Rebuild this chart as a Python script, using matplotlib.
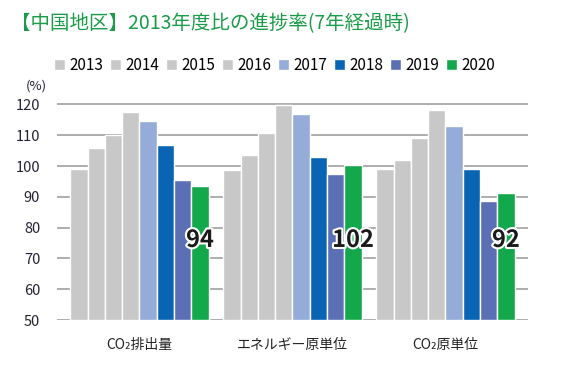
import matplotlib
matplotlib.use("Agg")
import matplotlib.pyplot as plt
import matplotlib.patheffects as pe
import numpy as np

plt.rcParams['font.family'] = ['Noto Sans CJK JP', 'DejaVu Sans']

categories = ["CO₂排出量", "エネルギー原単位", "CO₂原単位"]
years = ["2013", "2014", "2015", "2016", "2017", "2018", "2019", "2020"]
v2013 = [99.1, 98.8, 99.1]
v2014 = [105.9, 103.6, 102.0]
v2015 = [110.1, 110.8, 109.2]
v2016 = [117.6, 119.9, 118.3]
v2017 = [114.7, 117.0, 113.1]
v2018 = [106.9, 103.0, 99.1]
v2019 = [95.5, 97.5, 88.7]
v2020 = [93.6, 100.4, 91.3]
series = [v2013, v2014, v2015, v2016, v2017, v2018, v2019, v2020]
labels_2020 = ["94", "102", "92"]
colors = ["#c8c8c8", "#c8c8c8", "#c8c8c8", "#c8c8c8", "#95acd8", "#0a64b4", "#5b6fb5", "#14a84c"]
yticks = [50, 60, 70, 80, 90, 100, 110, 120]

fig = plt.figure(figsize=(5.63, 3.68), dpi=100)
ax = fig.add_axes([0.101, 0.1304, 0.837, 0.594])

x = np.arange(len(categories))
pitch = 0.113
handles = []
for i, (vals, c) in enumerate(zip(series, colors)):
    pos = x + (i - 3.5) * pitch
    b = ax.bar(pos, np.array(vals) - 50, bottom=50, width=pitch, color=c,
               edgecolor="white", linewidth=1.0, zorder=3, label=years[i])
    handles.append(b)

pos20 = x + 3.5 * pitch
for xp, lab in zip(pos20, labels_2020):
    ax.text(xp, 76, lab, ha="center", va="center", fontsize=17, fontweight="bold",
            color="#1a1a1a", zorder=5,
            path_effects=[pe.withStroke(linewidth=3, foreground="white")])

ax.set_xlim(-0.54, 2.54)
ax.set_ylim(50, 121)
ax.set_yticks(yticks)
ax.set_yticklabels([str(t) for t in yticks], fontsize=10.5, color="#222233")
ax.tick_params(axis="y", length=0, pad=12)
ax.set_xticks(x)
ax.set_xticklabels(categories, fontsize=10, color="#222222")
ax.tick_params(axis="x", length=0, pad=13)
ax.grid(axis="y", color="#a0a0a0", linewidth=1.2, zorder=0)
for s in ax.spines.values():
    s.set_visible(False)

fig.text(0.02, 0.935, "【中国地区】2013年度比の進捗率(7年経過時)", fontsize=14,
         color="#1a9c48", ha="left", va="center")
fig.text(0.045, 0.765, "(%)", fontsize=9.5, color="#222233", ha="left", va="center")

fig.legend(handles=handles, loc="center left", bbox_to_anchor=(0.085, 0.823), ncol=8,
           frameon=False, fontsize=11, handlelength=0.7, handleheight=0.7,
           handletextpad=0.3, columnspacing=0.45, borderaxespad=0)

fig.savefig("out.png", dpi=100)
